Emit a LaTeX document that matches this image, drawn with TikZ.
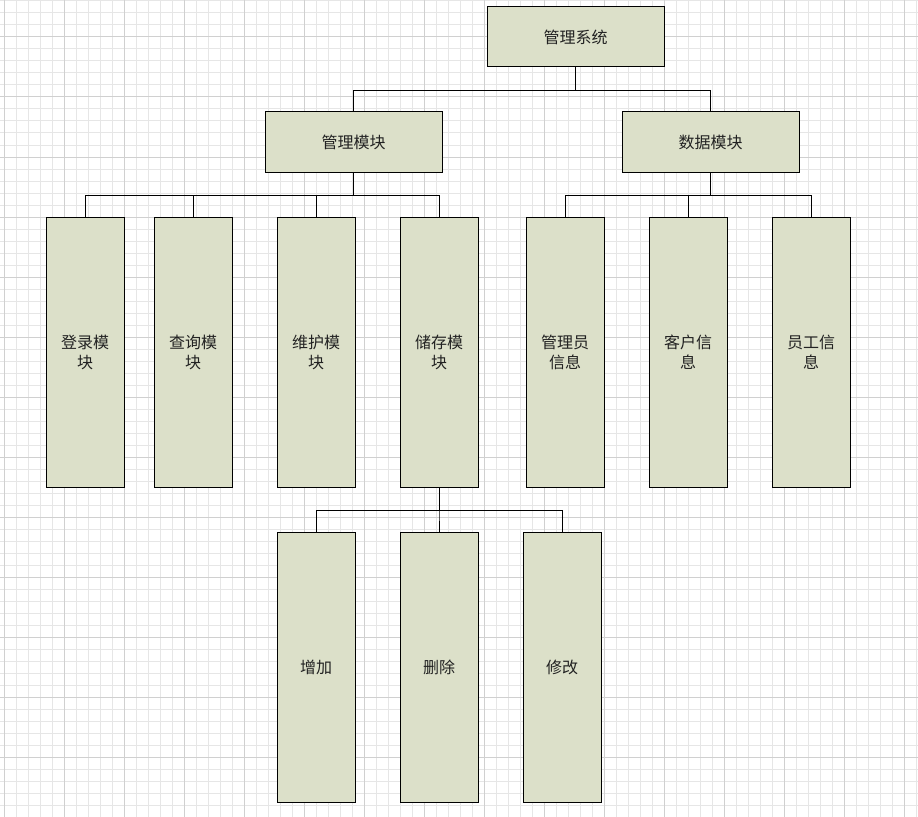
\documentclass[tikz,border=0pt]{standalone}
\usepackage{fontspec}
\setmainfont{Noto Sans CJK SC}
\definecolor{boxfill}{HTML}{DCE0C9}
\definecolor{gridminor}{HTML}{E6E6E6}
\definecolor{gridmajor}{HTML}{D0D0D0}
\definecolor{txt}{HTML}{222222}
\begin{document}
\begin{tikzpicture}[x=0.75pt,y=-0.75pt,
  box/.style={draw=black,line width=0.75pt,fill=boxfill,inner sep=0pt,
    font=\fontsize{12pt}{15pt}\selectfont,text=txt,align=center},
  wide/.style={box,minimum width=132.75pt,minimum height=45pt},
  tall/.style={box,minimum width=58.5pt,minimum height=202.5pt},
  link/.style={draw=black,line width=0.75pt}]
\useasboundingbox (0,0) rectangle (918,817);
\fill[white] (0,0) rectangle (918,817);
\foreach \i in {0,...,76} \draw[gridminor,line width=0.75pt] (4+12*\i,0) -- (4+12*\i,817);
\foreach \i in {0,...,68} \draw[gridminor,line width=0.75pt] (0,1+12*\i) -- (918,1+12*\i);
\foreach \i in {0,...,15} \draw[gridmajor,line width=0.75pt] (4+60*\i,0) -- (4+60*\i,817);
\foreach \i in {0,...,13} \draw[gridmajor,line width=0.75pt] (0,37+60*\i) -- (918,37+60*\i);

\node[wide] (sys) at (575.5,37) {管理系统};
\node[wide] (mgr) at (353.5,142) {管理模块};
\node[wide] (dat) at (710.5,142) {数据模块};

\node[tall] (login) at (85,352) {登录模\\块};
\node[tall] (query) at (193,352) {查询模\\块};
\node[tall] (maint) at (316,352) {维护模\\块};
\node[tall] (store) at (439,352) {储存模\\块};
\node[tall] (admin) at (565,352) {管理员\\信息};
\node[tall] (cust) at (688,352) {客户信\\息};
\node[tall] (staff) at (811,352) {员工信\\息};

\node[tall] (add) at (316,667) {增加};
\node[tall] (del) at (439,667) {删除};
\node[tall] (mod) at (562,667) {修改};

\path[link] (sys.south) -- ++(0,23) -| (mgr.north);
\path[link] (sys.south) -- ++(0,23) -| (dat.north);

\foreach \t in {login,query,maint,store}
  \path[link] (mgr.south) -- ++(0,23) -| (\t.north);
\foreach \t in {admin,cust,staff}
  \path[link] (dat.south) -- ++(0,23) -| (\t.north);
\foreach \t in {add,del,mod}
  \path[link] (store.south) -- ++(0,23) -| (\t.north);
\end{tikzpicture}
\end{document}
